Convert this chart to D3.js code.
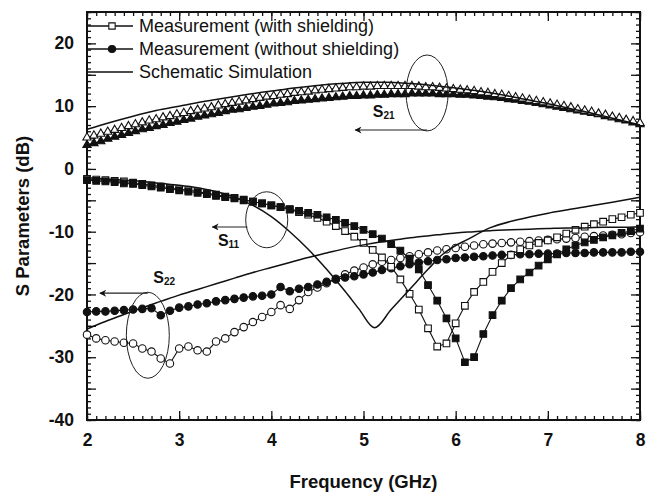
<!DOCTYPE html>
<html><head><meta charset="utf-8">
<script src="https://cdn.jsdelivr.net/npm/d3@7"></script>
<style>body{margin:0;background:#fff}svg{display:block}</style>
</head><body>
<svg id="c" width="649" height="497"></svg>
<script>
// ---------- data ----------
const xTickLabels = [2, 3, 4, 5, 6, 7, 8];
const yTickLabels = [-40, -30, -20, -10, 0, 10, 20];
const legendLabels = ["Measurement (with shielding)", "Measurement (without shielding)", "Schematic Simulation"];

// S21 measured, sampled every 0.075 GHz from 2 GHz
const triStart = 2, triStep = 0.075;
const s21With = [5.0,5.3,5.6,5.9,6.2,6.5,6.8,7.1,7.4,7.7,7.9,8.2,8.4,8.7,8.9,9.2,9.4,9.6,9.8,10.1,10.3,10.5,10.7,10.9,11.1,11.3,11.5,11.6,11.8,11.9,12.1,12.2,12.3,12.5,12.6,12.7,12.8,12.9,13.0,13.0,13.1,13.1,13.2,13.2,13.2,13.2,13.2,13.2,13.1,13.0,13.0,12.9,12.8,12.7,12.6,12.5,12.4,12.2,12.1,11.9,11.8,11.6,11.4,11.2,11.0,10.8,10.6,10.4,10.2,10.0,9.8,9.5,9.3,9.1,8.8,8.6,8.3,8.1,7.8,7.6,7.3];
const s21Without = [3.8,4.1,4.4,4.8,5.1,5.4,5.7,6.0,6.3,6.5,6.8,7.0,7.3,7.5,7.8,8.0,8.3,8.5,8.7,8.9,9.2,9.4,9.5,9.7,9.9,10.0,10.2,10.4,10.5,10.6,10.8,10.9,11.0,11.1,11.2,11.3,11.4,11.5,11.6,11.6,11.7,11.7,11.8,11.8,11.9,11.9,11.9,12.0,12.0,12.0,12.0,11.9,11.9,11.9,11.8,11.8,11.7,11.6,11.5,11.4,11.3,11.1,11.0,10.8,10.7,10.5,10.3,10.1,9.9,9.7,9.5,9.3,9.1,8.9,8.7,8.4,8.2,7.9,7.7,7.4,7.1];

// S11 / S22 measured, sampled every 0.1 GHz from 2 GHz
const mStart = 2, mStep = 0.1;
const s11With = [-1.6,-1.7,-1.8,-1.9,-2.0,-2.2,-2.4,-2.6,-2.8,-3.0,-3.2,-3.4,-3.6,-3.9,-4.1,-4.4,-4.6,-4.9,-5.2,-5.5,-5.8,-6.1,-6.5,-6.9,-7.3,-7.8,-8.4,-9.1,-9.9,-10.8,-11.8,-12.9,-14.1,-15.6,-17.6,-19.9,-22.4,-25.4,-28.3,-27.8,-24.6,-21.8,-19.6,-18.0,-16.4,-15.0,-13.7,-12.8,-12.2,-11.8,-11.4,-10.9,-10.3,-9.7,-9.2,-8.8,-8.4,-8.0,-7.7,-7.3,-7.0];
const s11Without = [-1.8,-1.9,-2.0,-2.1,-2.3,-2.4,-2.6,-2.8,-3.0,-3.2,-3.4,-3.6,-3.8,-4.0,-4.3,-4.5,-4.7,-5.0,-5.2,-5.5,-5.8,-6.1,-6.4,-6.7,-7.0,-7.3,-7.7,-8.1,-8.6,-9.1,-9.7,-10.4,-11.1,-12.0,-13.0,-14.3,-16.0,-18.5,-21.0,-23.8,-27.0,-30.8,-30.0,-26.3,-23.3,-21.0,-19.0,-17.6,-16.5,-15.4,-14.4,-13.6,-12.8,-12.2,-11.7,-11.3,-10.9,-10.6,-10.2,-9.9,-9.5];
const s22With = [-26.4,-27.0,-27.3,-27.5,-27.7,-27.8,-28.6,-29.1,-30.2,-31.0,-28.6,-28.3,-28.9,-29.1,-27.5,-27.0,-26.0,-25.2,-24.4,-23.6,-22.8,-21.7,-22.3,-20.9,-19.6,-18.9,-18.2,-17.5,-16.8,-16.2,-15.7,-15.2,-14.8,-14.5,-14.2,-13.9,-13.6,-13.3,-13.0,-12.8,-12.6,-12.4,-12.2,-12.0,-11.9,-11.8,-11.7,-11.6,-11.5,-11.4,-11.3,-11.2,-11.1,-11.0,-10.8,-10.7,-10.6,-10.5,-10.4,-10.2,-10.1];
const s22Without = [-22.8,-22.7,-22.7,-22.6,-22.5,-22.4,-22.3,-22.2,-23.3,-22.6,-22.1,-21.9,-21.6,-21.4,-21.1,-20.9,-20.7,-20.5,-20.3,-20.2,-20.0,-18.8,-19.5,-19.1,-18.8,-18.4,-18.0,-17.6,-17.3,-17.1,-16.8,-16.5,-16.1,-15.8,-15.5,-15.2,-14.9,-14.7,-14.5,-14.4,-14.2,-14.1,-14.0,-13.9,-13.8,-13.7,-13.7,-13.6,-13.6,-13.5,-13.5,-13.5,-13.4,-13.4,-13.4,-13.3,-13.3,-13.3,-13.3,-13.2,-13.2];

// Schematic simulation curves
const simS21Freq = [2.0,2.25,2.5,2.75,3.0,3.25,3.5,3.75,4.0,4.25,4.5,4.75,5.0,5.25,5.5,5.75,6.0,6.25,6.5,6.75,7.0,7.25,7.5,7.75,8.0];
const simS21 = [6.3,7.4,8.4,9.3,10.0,10.7,11.3,11.9,12.4,12.9,13.3,13.6,13.8,13.8,13.6,13.3,12.9,12.4,11.8,11.1,10.4,9.6,8.8,7.9,7.0];
const simS11Freq = [2.0,2.2,2.4,2.6,2.8,3.0,3.2,3.4,3.6,3.8,4.0,4.2,4.4,4.6,4.8,4.95,5.12,5.3,5.5,5.7,5.86,6.0,6.12,6.37,6.67,7.02,7.38,7.7,8.0];
const simS11 = [-1.4,-1.6,-1.8,-2.0,-2.3,-2.6,-3.0,-3.6,-4.5,-5.8,-7.6,-10.0,-12.8,-16.0,-19.5,-22.3,-25.3,-22.4,-19.2,-16.0,-13.6,-12.2,-11.3,-9.4,-8.1,-7.0,-6.1,-5.3,-4.5];
const simS22Freq = [2.0,2.2,2.4,2.6,2.8,3.0,3.2,3.4,3.6,3.8,4.0,4.2,4.4,4.6,4.8,5.0,5.2,5.4,5.6,5.8,6.0,6.2,6.4,6.6,6.8,7.0,7.2,7.4,7.6,7.8,8.0];
const simS22 = [-25.5,-24.3,-23.2,-22.1,-21.1,-20.1,-19.2,-18.3,-17.4,-16.5,-15.7,-14.9,-14.1,-13.4,-12.7,-12.1,-11.6,-11.2,-10.8,-10.5,-10.2,-10.0,-9.8,-9.7,-9.6,-9.5,-9.4,-9.4,-9.3,-9.3,-9.2];

// annotation groups (ellipse, label, arrow) in data units
const annotations = [
  {name:"S", sub:"21", cf:5.69, cdb:12.1, rxf:0.228, rydb:6.05, labelF:5.10, labelDb:8.2, arrowDb:6.2, arrowFromF:5.69, arrowToF:4.91},
  {name:"S", sub:"11", cf:3.95, cdb:-8.1, rxf:0.228, rydb:4.46, labelF:3.42, labelDb:-12.3, arrowDb:-9.25, arrowFromF:3.74, arrowToF:3.36},
  {name:"S", sub:"22", cf:2.66, cdb:-26.5, rxf:0.233, rydb:6.85, labelF:2.72, labelDb:-18.2, arrowDb:-19.8, arrowFromF:2.66, arrowToF:2.14}
];

// ---------- layout ----------
const W = 649, H = 497;
const m = {left: 87, top: 12, right: 9, bottom: 77};
const iw = W - m.left - m.right, ih = H - m.top - m.bottom;
const svg = d3.select("#c");
const g = svg.append("g").attr("transform", `translate(${m.left},${m.top})`);
const x = d3.scaleLinear().domain([2, 8]).range([0, iw]);
const y = d3.scaleLinear().domain([-40, 25]).range([ih, 0]);
const FONT = "'Liberation Sans', Arial, Helvetica, sans-serif";
const fmt = d => String(d);

// ---------- axes (inward ticks on all four sides) ----------
const xMinor = d3.range(20, 81).map(v => v / 10);
const yMinor = d3.range(-40, 26);
const yMajor = d3.range(-40, 26, 5);
function styleAxis(sel){ sel.selectAll(".domain").remove(); sel.selectAll("line").attr("stroke","#111").attr("stroke-width",1.3); }
g.append("g").attr("transform",`translate(0,${ih})`).call(d3.axisBottom(x).tickValues(xMinor).tickSize(-4).tickFormat("")).call(styleAxis);
g.append("g").attr("transform",`translate(0,${ih})`).call(d3.axisBottom(x).tickValues(xTickLabels).tickSize(-9).tickPadding(14).tickFormat(fmt)).call(styleAxis)
  .selectAll("text").attr("font-family",FONT).attr("font-weight","bold").attr("font-size",17.5).attr("fill","#111");
g.append("g").call(d3.axisTop(x).tickValues(xMinor).tickSize(-4).tickFormat("")).call(styleAxis);
g.append("g").call(d3.axisTop(x).tickValues(xTickLabels).tickSize(-9).tickFormat("")).call(styleAxis);
g.append("g").call(d3.axisLeft(y).tickValues(yMinor).tickSize(-4).tickFormat("")).call(styleAxis);
g.append("g").call(d3.axisLeft(y).tickValues(yMajor).tickSize(-9).tickFormat("")).call(styleAxis);
g.append("g").call(d3.axisLeft(y).tickValues(yTickLabels).tickSize(0).tickPadding(13).tickFormat(fmt)).call(styleAxis)
  .selectAll("text").attr("font-family",FONT).attr("font-weight","bold").attr("font-size",17.5).attr("fill","#111");
g.append("g").attr("transform",`translate(${iw},0)`).call(d3.axisRight(y).tickValues(yMinor).tickSize(-4).tickFormat("")).call(styleAxis);
g.append("g").attr("transform",`translate(${iw},0)`).call(d3.axisRight(y).tickValues(yMajor).tickSize(-9).tickFormat("")).call(styleAxis);

// frame
g.append("rect").attr("width", iw).attr("height", ih).attr("fill","none").attr("stroke","#111").attr("stroke-width",2);

// titles
svg.append("text").attr("x", m.left + iw/2).attr("y", 488).attr("text-anchor","middle")
  .attr("font-family",FONT).attr("font-weight","bold").attr("font-size",18.5).attr("fill","#111").text("Frequency (GHz)");
svg.append("text").attr("transform",`translate(29,${m.top + ih/2}) rotate(-90)`).attr("text-anchor","middle")
  .attr("font-family",FONT).attr("font-weight","bold").attr("font-size",18.5).attr("fill","#111").text("S Parameters (dB)");

// ---------- series ----------
const plot = g.append("g");
const line = d3.line().x(d => x(d[0])).y(d => y(d[1]));
const smooth = d3.line().x(d => x(d[0])).y(d => y(d[1])).curve(d3.curveMonotoneX);
function seriesPts(vals, start, step){ return vals.map((v,i) => [start + i*step, v]); }

function drawMarked(vals, start, step, shape, filled, size){
  const pts = seriesPts(vals, start, step);
  plot.append("path").datum(pts).attr("d", line).attr("fill","none").attr("stroke","#111").attr("stroke-width",1.1);
  const sym = d3.symbol().type(shape).size(size);
  plot.append("g").selectAll("path").data(pts).join("path")
    .attr("transform", d => `translate(${x(d[0])},${y(d[1])})`)
    .attr("d", sym)
    .attr("fill", filled ? "#111" : "#fff").attr("stroke","#111").attr("stroke-width",1.1);
}

// S21
drawMarked(s21Without, triStart, triStep, d3.symbolTriangle, true, 30);
drawMarked(s21With, triStart, triStep, d3.symbolTriangle, false, 30);
// S22
drawMarked(s22With, mStart, mStep, d3.symbolCircle, false, 44);
drawMarked(s22Without, mStart, mStep, d3.symbolCircle, true, 44);
// S11
drawMarked(s11With, mStart, mStep, d3.symbolSquare, false, 44);
drawMarked(s11Without, mStart, mStep, d3.symbolSquare, true, 44);

// simulation lines
[[simS21Freq, simS21],[simS11Freq, simS11],[simS22Freq, simS22]].forEach(([f, v]) => {
  plot.append("path").datum(f.map((fr,i) => [fr, v[i]])).attr("d", smooth)
    .attr("fill","none").attr("stroke","#111").attr("stroke-width",1.5);
});

// ---------- annotations ----------
const defs = svg.append("defs");
defs.append("marker").attr("id","ah").attr("viewBox","0 0 10 10").attr("refX",9).attr("refY",5)
  .attr("markerWidth",10).attr("markerHeight",7).attr("orient","auto").attr("markerUnits","userSpaceOnUse")
  .append("path").attr("d","M10,5 L0,0 L3,5 L0,10 Z").attr("fill","#111");
annotations.forEach(a => {
  const cx = x(a.cf), cy = y(a.cdb);
  const rx = x(a.cf + a.rxf) - cx, ry = y(a.cdb - a.rydb) - cy;
  g.append("ellipse").attr("cx",cx).attr("cy",cy).attr("rx",rx).attr("ry",ry)
    .attr("fill","none").attr("stroke","#222").attr("stroke-width",1);
  g.append("line").attr("x1",x(a.arrowFromF)).attr("x2",x(a.arrowToF)).attr("y1",y(a.arrowDb)).attr("y2",y(a.arrowDb))
    .attr("stroke","#222").attr("stroke-width",1.2).attr("marker-end","url(#ah)");
  const t = g.append("text").attr("x",x(a.labelF)).attr("y",y(a.labelDb)).attr("font-family",FONT)
    .attr("font-weight","bold").attr("font-size",16).attr("fill","#111");
  t.append("tspan").text(a.name);
  t.append("tspan").attr("font-size",10).attr("dy",2).text(a.sub);
});

// ---------- legend ----------
const legend = g.append("g");
const legY = [26, 49, 72].map(v => v - m.top);
const legShapes = [d3.symbolSquare, d3.symbolCircle, null];
const legFill = [false, true, false];
legendLabels.forEach((lab, i) => {
  const ly = legY[i];
  legend.append("line").attr("x1",1).attr("x2",46).attr("y1",ly).attr("y2",ly).attr("stroke","#111").attr("stroke-width",1.5);
  if (legShapes[i]) {
    legend.append("path").attr("transform",`translate(25,${ly})`).attr("d", d3.symbol().type(legShapes[i]).size(40))
      .attr("fill", legFill[i] ? "#111" : "#fff").attr("stroke","#111").attr("stroke-width",1.1);
  }
  legend.append("text").attr("x",52).attr("y",ly).attr("dy","0.36em").attr("font-family",FONT)
    .attr("font-size",18).attr("fill","#111").text(lab);
});
</script>
</body></html>
